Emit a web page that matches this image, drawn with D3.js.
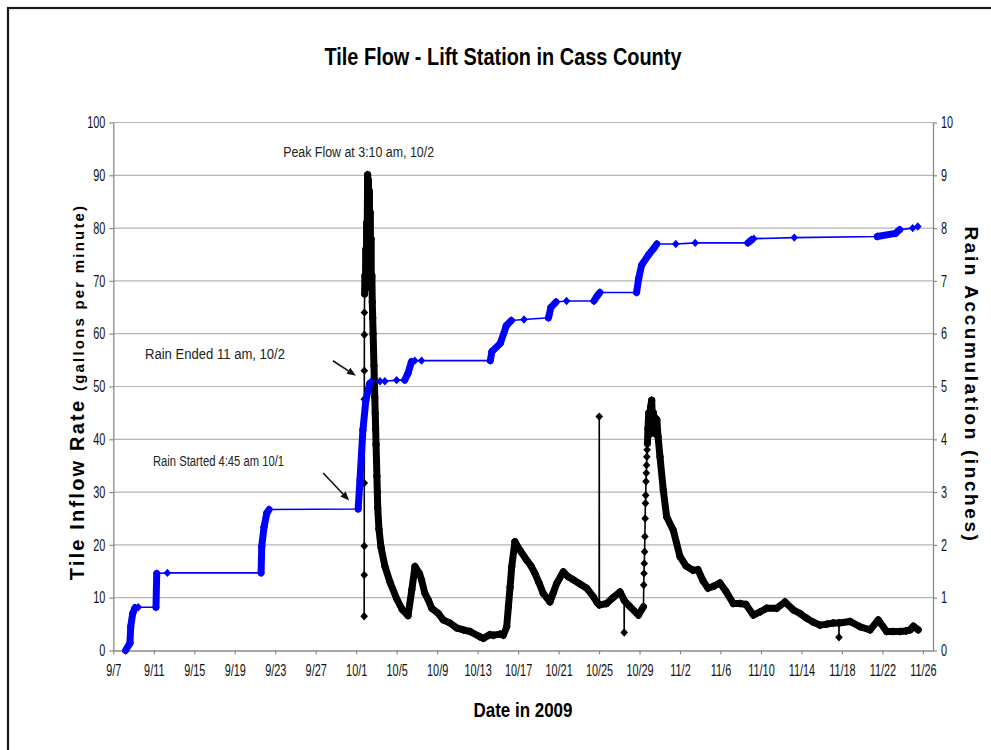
<!DOCTYPE html>
<html>
<head>
<meta charset="utf-8">
<script src="https://cdn.jsdelivr.net/npm/d3@7"></script>
<style>
  body { margin: 0; background: #fff; }
  svg { display: block; }
</style>
</head>
<body>
<svg id="chart" width="991" height="750"></svg>
<script>
// ---- data ----
const xTickLabels = ["9/7", "9/11", "9/15", "9/19", "9/23", "9/27", "10/1", "10/5", "10/9", "10/13",
  "10/17", "10/21", "10/25", "10/29", "11/2", "11/6", "11/10", "11/14", "11/18", "11/22", "11/26"];
const flowTicks = [0, 10, 20, 30, 40, 50, 60, 70, 80, 90, 100];
const rainTicks = [0, 1, 2, 3, 4, 5, 6, 7, 8, 9, 10];

// tile inflow, gallons per minute
const flowReadings = [
  ["10/01 19:00", 6.5], ["10/01 19:04", 14.3], ["10/01 19:08", 19.8], ["10/01 19:12", 31.7],
  ["10/01 19:16", 47.6], ["10/01 19:20", 53.0], ["10/01 19:24", 59.8], ["10/01 19:30", 64.0],
  ["10/01 20:00", 67.5], ["10/01 21:00", 71], ["10/01 22:00", 68.5], ["10/01 23:00", 76],
  ["10/02 00:00", 72], ["10/02 01:00", 81], ["10/02 02:00", 78], ["10/02 03:10", 90.1],
  ["10/02 04:10", 86], ["10/02 05:10", 89], ["10/02 06:10", 83], ["10/02 07:10", 87],
  ["10/02 08:10", 79], ["10/02 09:10", 83], ["10/02 10:10", 74], ["10/02 11:10", 78],
  ["10/02 12:10", 69], ["10/02 13:10", 71], ["10/02 14:10", 66], ["10/02 15:10", 63],
  ["10/02 16:10", 60], ["10/02 17:10", 57], ["10/02 18:10", 54], ["10/02 19:10", 51],
  ["10/02 20:10", 48], ["10/02 21:10", 45], ["10/02 22:10", 42], ["10/02 23:10", 39],
  ["10/03 00:10", 36], ["10/03 01:10", 33], ["10/03 02:10", 30], ["10/03 03:10", 27],
  ["10/03 06:00", 23], ["10/03 11:00", 19.5], ["10/03 20:00", 16], ["10/04 08:00", 13],
  ["10/05 00:00", 9.8], ["10/05 13:00", 7.8], ["10/06 03:00", 6.6], ["10/06 12:00", 11.5],
  ["10/06 19:30", 15.9], ["10/07 06:00", 14.6], ["10/07 11:00", 13.4], ["10/07 19:00", 10.8],
  ["10/08 03:00", 9.6], ["10/08 11:00", 8.0], ["10/09 03:00", 7.0], ["10/09 14:30", 5.8],
  ["10/10 06:30", 5.2], ["10/10 22:00", 4.3], ["10/11 14:00", 3.9], ["10/12 06:00", 3.6],
  ["10/13 06:00", 2.6], ["10/13 13:30", 2.3], ["10/14 05:00", 3.0], ["10/14 13:00", 2.9],
  ["10/15 05:00", 3.1], ["10/15 13:00", 2.9], ["10/15 21:00", 4.5], ["10/16 01:00", 8.3],
  ["10/16 05:00", 12.0], ["10/16 09:00", 15.9], ["10/16 16:30", 20.6], ["10/17 04:30", 19.0],
  ["10/17 20:30", 17.1], ["10/18 06:45", 16.0], ["10/18 16:00", 14.6], ["10/19 01:40", 12.8],
  ["10/19 11:45", 10.8], ["10/20 03:40", 9.2], ["10/20 10:50", 10.8], ["10/20 19:30", 12.7],
  ["10/21 11:15", 14.9], ["10/21 22:20", 14.0], ["10/22 10:50", 13.4], ["10/23 02:50", 12.6],
  ["10/23 18:45", 11.8], ["10/24 10:20", 10.2], ["10/24 20:00", 9.0], ["10/25 00:10", 8.8],
  ["10/25 00:30", 44.3], ["10/25 00:50", 8.6], ["10/25 18:00", 8.9], ["10/26 09:00", 10.0],
  ["10/27 01:40", 11.1], ["10/27 11:20", 9.6], ["10/27 11:40", 3.4], ["10/27 12:00", 9.4],
  ["10/28 01:40", 8.3], ["10/28 21:20", 6.7], ["10/29 09:20", 8.3], ["10/29 10:00", 12.4],
  ["10/29 10:40", 14.6], ["10/29 11:20", 16.5], ["10/29 12:00", 18.7], ["10/29 12:40", 21.6],
  ["10/29 13:20", 25.0], ["10/29 14:00", 27.9], ["10/29 14:40", 29.4], ["10/29 15:20", 32.0],
  ["10/29 16:00", 33.6], ["10/29 16:40", 35.1], ["10/29 17:20", 36.7], ["10/29 18:00", 38.0],
  ["10/29 18:40", 39.2], ["10/29 20:00", 42], ["10/29 22:00", 45], ["10/30 00:00", 41],
  ["10/30 02:00", 46], ["10/30 04:50", 47.4], ["10/30 07:00", 43], ["10/30 09:00", 45],
  ["10/30 11:00", 42], ["10/30 13:00", 44], ["10/30 15:00", 41], ["10/30 17:00", 43.7],
  ["10/30 20:00", 40.5], ["10/31 00:30", 36.7], ["10/31 08:20", 30.4], ["10/31 16:20", 25.3],
  ["11/01 08:00", 22.8], ["11/02 00:00", 17.8], ["11/02 14:30", 16.0], ["11/03 06:45", 15.2],
  ["11/03 18:40", 15.3], ["11/04 06:30", 13.2], ["11/04 18:30", 11.8], ["11/05 08:40", 12.2],
  ["11/05 22:50", 12.8], ["11/06 13:00", 11.2], ["11/07 06:15", 8.9], ["11/07 22:20", 8.9],
  ["11/08 12:30", 8.7], ["11/09 05:50", 6.7], ["11/09 21:40", 7.3], ["11/10 13:40", 8.0],
  ["11/11 13:15", 8.0], ["11/12 09:00", 9.2], ["11/13 04:30", 7.7], ["11/13 20:40", 7.0],
  ["11/14 12:30", 6.1], ["11/15 03:20", 5.4], ["11/15 20:00", 4.8], ["11/16 12:30", 5.0],
  ["11/17 03:40", 5.2], ["11/17 16:40", 5.2], ["11/17 17:00", 2.5], ["11/17 17:20", 5.2],
  ["11/18 19:10", 5.5], ["11/19 19:00", 4.5], ["11/20 18:40", 3.9], ["11/21 14:10", 5.8],
  ["11/22 10:00", 3.6], ["11/23 01:00", 3.6], ["11/23 17:45", 3.6], ["11/24 08:10", 3.7],
  ["11/24 17:45", 3.9], ["11/25 01:40", 4.6], ["11/25 13:10", 3.9]
];

// rain accumulation, inches
const rainReadings = [
  ["09/08 05:00", 0.00], ["09/08 15:30", 0.14], ["09/08 17:15", 0.45], ["09/08 22:00", 0.70],
  ["09/09 03:30", 0.81], ["09/09 11:15", 0.82], ["09/11 05:15", 0.82], ["09/11 07:00", 1.46],
  ["09/12 08:15", 1.47], ["09/21 14:30", 1.47], ["09/21 16:00", 1.97], ["09/21 21:30", 2.34],
  ["09/22 04:00", 2.60], ["09/22 09:30", 2.67], ["10/01 04:45", 2.68], ["10/01 09:00", 3.23],
  ["10/01 16:00", 4.18], ["10/01 23:00", 4.74], ["10/02 08:00", 5.06], ["10/02 11:00", 5.09],
  ["10/03 08:30", 5.10], ["10/03 20:00", 5.10], ["10/05 00:00", 5.12], ["10/05 19:00", 5.12],
  ["10/06 03:00", 5.25], ["10/06 11:00", 5.47], ["10/06 19:00", 5.49], ["10/07 11:00", 5.49],
  ["10/14 06:00", 5.49], ["10/14 10:00", 5.66], ["10/15 06:00", 5.82], ["10/15 20:00", 6.15],
  ["10/16 08:00", 6.25], ["10/17 14:00", 6.27], ["10/20 00:00", 6.30], ["10/20 06:00", 6.50],
  ["10/20 18:00", 6.60], ["10/21 19:00", 6.62], ["10/24 12:00", 6.62], ["10/24 20:00", 6.72],
  ["10/25 02:00", 6.78], ["10/28 17:00", 6.78], ["10/28 22:00", 7.05], ["10/29 05:00", 7.30],
  ["10/29 22:00", 7.50], ["10/30 10:00", 7.62], ["10/30 17:00", 7.70], ["11/01 14:00", 7.70],
  ["11/03 12:00", 7.72], ["11/08 17:00", 7.72], ["11/09 02:00", 7.78], ["11/09 07:00", 7.80],
  ["11/13 07:00", 7.82], ["11/21 12:00", 7.84], ["11/23 07:00", 7.90], ["11/23 17:00", 7.97],
  ["11/25 00:00", 8.00], ["11/25 12:00", 8.03]
];

// ---- setup ----
const parseTime = s => d3.timeParse("%Y/%m/%d %H:%M")("2009/" + s);
const parseTick = s => d3.timeParse("%Y/%m/%d")("2009/" + s);

const flow = flowReadings.map(([t, v]) => ({ t: parseTime(t), v }));
const rain = rainReadings.map(([t, v]) => ({ t: parseTime(t), v }));
const xTicks = xTickLabels.map(parseTick);

const plot = { left: 113.3, right: 933, top: 122.5, bottom: 650.5 };
const font = "'Liberation Sans', Arial, sans-serif";

const x = d3.scaleTime()
  .domain([parseTick("09/07"), parseTick("11/27")])
  .range([plot.left, plot.right]);
const yFlow = d3.scaleLinear().domain([0, 100]).range([plot.bottom, plot.top]);
const yRain = d3.scaleLinear().domain([0, 10]).range([plot.bottom, plot.top]);

const svg = d3.select("#chart").attr("font-family", font);

// squeeze text horizontally, the original uses a narrow face
function condense(sel, k) {
  sel.each(function () {
    const len = this.getComputedTextLength();
    d3.select(this).attr("textLength", len * k).attr("lengthAdjust", "spacingAndGlyphs");
  });
}

// outer frame
svg.append("rect")
  .attr("x", 8).attr("y", 8)
  .attr("width", 1000).attr("height", 800)
  .attr("fill", "none")
  .attr("stroke", "#1a1a1a")
  .attr("stroke-width", 2.2);

// horizontal grid
svg.append("g")
  .selectAll("line")
  .data(flowTicks.filter(d => d > 0))
  .join("line")
  .attr("x1", plot.left).attr("x2", plot.right)
  .attr("y1", d => yFlow(d)).attr("y2", d => yFlow(d))
  .attr("stroke", "#b4b4b4")
  .attr("stroke-width", 1.2);

// axes
function styleAxis(g) {
  g.attr("font-family", font).attr("font-size", 16);
  g.select(".domain").attr("stroke", "#8a8a8a").attr("stroke-width", 1.3);
  g.selectAll(".tick line").attr("stroke", "#8a8a8a").attr("stroke-width", 1.2);
  g.selectAll(".tick text").attr("fill", "#111").call(condense, 0.68);
}

svg.append("g")
  .attr("transform", `translate(${plot.left},0)`)
  .call(d3.axisLeft(yFlow).tickValues(flowTicks).tickSize(4).tickSizeOuter(0).tickPadding(4))
  .call(styleAxis);

svg.append("g")
  .attr("transform", `translate(${plot.right},0)`)
  .call(d3.axisRight(yRain).tickValues(rainTicks).tickSize(4).tickSizeOuter(0).tickPadding(4))
  .call(styleAxis);

svg.append("g")
  .attr("transform", `translate(0,${plot.bottom})`)
  .call(d3.axisBottom(x).tickValues(xTicks).tickFormat(d3.timeFormat("%-m/%-d"))
    .tickSize(4).tickSizeOuter(0).tickPadding(10))
  .call(styleAxis);

// ---- series ----
const diamond = "M0,-4.2L3.8,0L0,4.2L-3.8,0Z";

function drawSeries(data, yScale, color, isDense) {
  const g = svg.append("g");
  const line = d3.line().x(d => x(d.t)).y(d => yScale(d.v));

  g.append("path")
    .attr("d", line(data))
    .attr("fill", "none")
    .attr("stroke", color)
    .attr("stroke-width", 1.6);

  // where the logger sampled densely the markers merge into a solid band
  g.selectAll("line.band")
    .data(d3.pairs(data).filter(([a, b]) => isDense(a, b)))
    .join("line")
    .attr("class", "band")
    .attr("x1", ([a]) => x(a.t)).attr("y1", ([a]) => yScale(a.v))
    .attr("x2", ([, b]) => x(b.t)).attr("y2", ([, b]) => yScale(b.v))
    .attr("stroke", color)
    .attr("stroke-width", 7)
    .attr("stroke-linecap", "round");

  g.selectAll("path.mark")
    .data(data)
    .join("path")
    .attr("class", "mark")
    .attr("d", diamond)
    .attr("transform", d => `translate(${x(d.t)},${yScale(d.v)})`)
    .attr("fill", color);
}

drawSeries(flow, yFlow, "#000", (a, b) => (b.t - a.t) >= 3600e3);
drawSeries(rain, yRain, "#0000ff", (a, b) => Math.abs(yRain(b.v) - yRain(a.v)) >= 2);

// ---- annotations ----
function arrow(x1, y1, x2, y2) {
  const ang = Math.atan2(y2 - y1, x2 - x1);
  const len = 9, half = 3.6;
  const bx = x2 - len * Math.cos(ang), by = y2 - len * Math.sin(ang);
  svg.append("line")
    .attr("x1", x1).attr("y1", y1).attr("x2", bx).attr("y2", by)
    .attr("stroke", "#111").attr("stroke-width", 1.6);
  svg.append("path")
    .attr("d", `M${x2},${y2}L${bx - half * Math.sin(ang)},${by + half * Math.cos(ang)}` +
      `L${bx + half * Math.sin(ang)},${by - half * Math.cos(ang)}Z`)
    .attr("fill", "#111");
}

const rainEndPt = rain.find(d => d.v === 5.09);
const rainStartPt = rain.find(d => d.v === 2.68);
const peakPt = flow.reduce((a, b) => (b.v > a.v ? b : a));

arrow(x(rainEndPt.t) - 38, yRain(rainEndPt.v) - 21, x(rainEndPt.t) - 15, yRain(rainEndPt.v) - 6);
arrow(x(rainStartPt.t) - 35, yRain(rainStartPt.v) - 36, x(rainStartPt.t) - 9, yRain(rainStartPt.v) - 8.5);

const notes = svg.append("g").attr("font-size", 14).attr("fill", "#222");
notes.append("text")
  .attr("x", x(peakPt.t) - 9).attr("y", yFlow(peakPt.v) - 18)
  .attr("text-anchor", "middle")
  .attr("textLength", 151).attr("lengthAdjust", "spacingAndGlyphs")
  .text("Peak Flow at 3:10 am, 10/2");
notes.append("text")
  .attr("x", 145).attr("y", 359)
  .attr("textLength", 140).attr("lengthAdjust", "spacingAndGlyphs")
  .text("Rain Ended 11 am, 10/2");
notes.append("text")
  .attr("x", 153).attr("y", 466)
  .attr("textLength", 131).attr("lengthAdjust", "spacingAndGlyphs")
  .text("Rain Started 4:45 am 10/1");

// ---- titles ----
svg.append("text")
  .attr("x", 503).attr("y", 65)
  .attr("text-anchor", "middle")
  .attr("font-weight", "bold")
  .attr("font-size", 23)
  .attr("textLength", 357).attr("lengthAdjust", "spacingAndGlyphs")
  .text("Tile Flow - Lift Station in Cass County");

svg.append("text")
  .attr("x", 523).attr("y", 717)
  .attr("text-anchor", "middle")
  .attr("font-weight", "bold")
  .attr("font-size", 21)
  .attr("textLength", 99).attr("lengthAdjust", "spacingAndGlyphs")
  .text("Date in 2009");

const yTitle = svg.append("text")
  .attr("transform", "translate(84,392) rotate(-90)")
  .attr("text-anchor", "middle")
  .attr("font-weight", "bold")
  .attr("letter-spacing", 2.2);
yTitle.append("tspan").attr("font-size", 20).text("Tile Inflow Rate ");
yTitle.append("tspan").attr("font-size", 15).text("(gallons per minute)");

svg.append("text")
  .attr("transform", "translate(965,385) rotate(90)")
  .attr("text-anchor", "middle")
  .attr("font-weight", "bold")
  .attr("font-size", 19)
  .attr("letter-spacing", 2.6)
  .text("Rain Accumulation (inches)");
</script>
</body>
</html>
